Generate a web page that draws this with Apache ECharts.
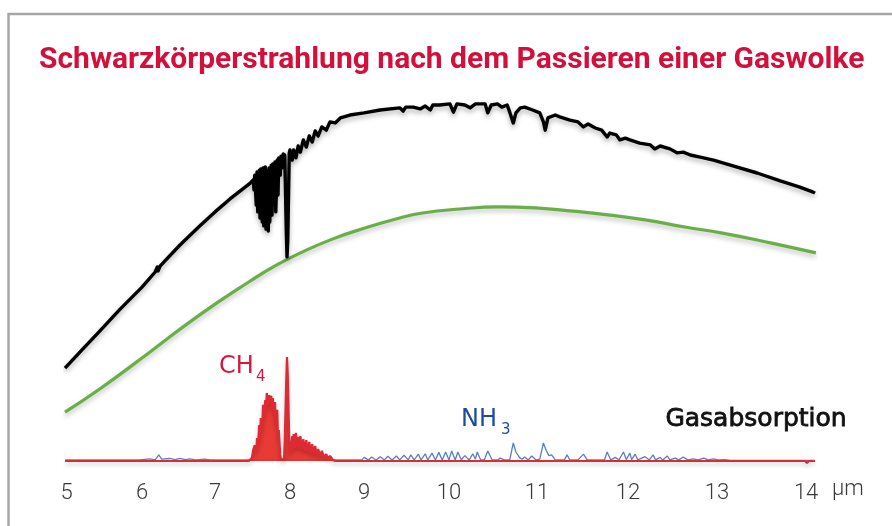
<!DOCTYPE html>
<html>
<head>
<meta charset="utf-8">
<script src="https://cdn.jsdelivr.net/npm/echarts@6/dist/echarts.min.js"></script>
<style>html,body{margin:0;padding:0;background:#fff;}#c{width:892px;height:526px;}</style>
</head>
<body>
<div id="c"></div>
<script>
// Wavelength ticks (µm) and where each sits along the (unevenly spaced) axis of the reference, as a fraction of 5→14 µm span
const xTickUm = [5, 6, 7, 8, 9, 10, 11, 12, 13, 14];
const xTickFrac = [0, 0.1021, 0.2008, 0.3022, 0.4023, 0.5172, 0.6362, 0.7593, 0.8796, 1.0];

// Black: spectrum after passing the gas cloud [µm, relative intensity]
const blackCurve = [
  [4.98,25.8],[5.18,30.3],[5.44,36.1],[5.71,42.2],[6.00,48.3],[6.18,52.5],[6.21,53.9],[6.22,52.8],[6.25,54.2],
  [6.52,60.0],[6.79,65.3],[7.00,69.2],[7.20,72.8],[7.47,77.2],[7.51,78.1],
  [7.52,75.3],[7.53,79.4],[7.55,71.1],[7.56,80.3],[7.57,69.2],[7.59,80.8],[7.60,67.5],[7.61,81.1],[7.63,66.4],
  [7.64,81.4],[7.65,65.3],[7.67,81.7],[7.68,64.4],[7.69,80.8],[7.71,63.9],[7.72,81.4],[7.73,66.4],[7.75,82.2],
  [7.76,68.3],[7.77,82.5],[7.79,71.1],[7.80,83.1],[7.81,69.2],[7.83,83.6],[7.84,73.9],[7.85,84.2],[7.87,79.4],
  [7.88,84.7],[7.89,81.4],[7.91,85.3],[7.92,83.6],[7.93,85.0],[7.95,64.2],[7.96,56.7],[7.97,61.4],[7.99,85.6],
  [8.00,86.4],[8.03,83.6],[8.05,86.4],[8.08,84.2],[8.11,87.5],[8.14,85.8],[8.18,89.2],[8.22,87.2],[8.26,90.3],
  [8.30,88.6],[8.34,91.7],[8.38,90.3],[8.43,92.8],[8.49,91.9],[8.54,94.2],[8.61,93.9],[8.68,95.3],[8.81,96.1],
  [9.00,96.7],[9.19,97.5],[9.42,98.1],[9.46,97.2],[9.49,98.3],[9.58,98.3],[9.66,97.8],[9.72,98.6],[9.78,97.5],
  [9.81,98.9],[9.89,98.9],[10.01,99.2],[10.05,96.9],[10.09,99.2],[10.18,98.9],[10.24,98.1],[10.30,99.2],
  [10.41,99.2],[10.44,96.7],[10.48,98.9],[10.55,99.2],[10.60,98.3],[10.66,98.9],[10.69,96.9],[10.73,93.9],
  [10.76,96.7],[10.81,98.1],[10.86,98.3],[10.95,97.5],[11.03,96.7],[11.07,94.2],[11.09,91.9],[11.12,95.3],
  [11.20,96.1],[11.25,95.6],[11.36,94.7],[11.45,94.2],[11.51,92.8],[11.56,93.6],[11.64,92.5],[11.71,91.9],
  [11.77,90.0],[11.80,91.1],[11.87,90.6],[11.91,89.2],[11.97,89.7],[12.02,89.2],[12.13,88.3],[12.25,87.8],
  [12.30,86.7],[12.36,87.5],[12.47,86.7],[12.55,85.6],[12.62,85.8],[12.70,85.0],[12.81,84.4],[12.96,83.6],
  [13.15,82.2],[13.45,80.0],[13.71,77.8],[13.93,76.1],[14.08,74.7],[14.10,74.4]
];

// Green: reference black-body curve [µm, relative intensity]
const greenCurve = [
  [4.98,13.6],[5.44,20.0],[6.11,30.3],[6.79,40.6],[7.47,50.0],[7.80,54.2],[8.14,57.8],[8.58,61.7],[9.01,64.7],
  [9.42,67.5],[9.69,68.9],[10.13,70.0],[10.56,70.6],[10.98,70.3],[11.39,69.4],
  [11.80,68.3],[12.21,66.9],[12.64,65.0],[13.06,63.3],[13.60,60.6],[14.11,57.8]
];

// Red: CH4 absorption [µm, absorption]
const ch4Absorption = [
  [4.98,0],[7.45,0],[7.49,0.8],[7.51,3.1],[7.53,4.4],[7.55,2.5],[7.56,6.4],[7.57,3.6],[7.59,10],[7.60,5.8],
  [7.61,11.9],[7.63,8.6],[7.64,15.6],[7.65,11.4],[7.67,16.9],[7.68,14.2],[7.69,18.9],[7.71,15.6],[7.72,18.3],
  [7.73,16.4],[7.75,18.1],[7.76,14.2],[7.77,17.5],[7.79,12.8],[7.80,16.4],[7.81,10],[7.83,14.2],[7.84,5.8],
  [7.85,8.6],[7.87,1.7],[7.88,0.6],[7.92,0.3],[7.93,5.8],[7.95,22.5],[7.96,28.9],[7.97,23.9],[7.99,5.8],
  [8.00,1.7],[8.01,3.6],[8.03,6.9],[8.04,3.1],[8.05,7.5],[8.07,3.6],[8.08,7.8],[8.09,3.9],[8.11,6.7],[8.12,3.3],
  [8.14,6.9],[8.16,3.1],[8.18,6.1],[8.20,2.8],[8.22,5.8],[8.24,2.5],[8.26,5.3],[8.28,2.2],[8.30,4.7],[8.32,1.9],
  [8.34,4.2],[8.36,1.7],[8.38,3.3],[8.41,1.4],[8.43,2.8],[8.46,1.1],[8.49,1.9],[8.51,0.8],[8.54,1.4],[8.58,0.3],
  [8.61,0],[13.99,0],[14.01,-0.6],[14.03,0],[14.10,0]
];

// Blue: NH3 absorption [µm, absorption]
const nh3Absorption = [
  [4.98,0.3],[5.97,0.3],[6.11,0.6],[6.18,0.3],[6.23,1.7],[6.27,0.5],[6.38,0.7],[6.45,0.4],[6.52,0.7],[6.59,0.4],
  [6.66,0.6],[6.73,0.3],[6.86,0.5],[6.93,0.3],[8.97,0.3],
  [9.00,1.0],[9.05,0.3],[9.09,1.1],[9.14,0.3],[9.19,1.2],[9.24,0.3],[9.28,1.3],[9.33,0.3],[9.38,1.4],[9.42,0.3],
  [9.47,1.6],[9.52,0.3],[9.55,1.7],[9.59,0.3],[9.64,1.9],[9.67,0.3],[9.72,2.0],[9.75,0.3],[9.80,2.2],[9.84,0.3],
  [9.88,2.4],[9.92,0.3],[9.96,2.5],[10.00,0.3],[10.03,2.8],[10.07,0.3],[10.10,2.5],[10.14,0.3],[10.18,1.5],
  [10.23,0.3],[10.27,2.0],[10.30,0.5],[10.32,2.5],[10.36,0.3],[10.40,0.3],[10.44,2.8],[10.49,0.3],[10.55,0.3],
  [10.58,0.8],[10.63,0.3],[10.69,0.3],[10.73,5.0],[10.76,2.5],[10.80,1.0],[10.83,0.5],[10.86,1.1],[10.90,0.3],
  [10.94,1.4],[10.99,0.3],[11.03,0.5],[11.07,5.0],[11.10,3.0],[11.13,1.5],[11.16,1.7],[11.20,0.3],[11.30,0.3],
  [11.33,1.7],[11.36,0.3],[11.45,0.3],[11.51,1.9],[11.55,0.3],[11.74,0.3],[11.77,2.5],[11.81,0.3],[11.86,1.0],
  [11.90,0.3],[11.95,2.5],[11.98,0.4],[12.02,2.2],[12.04,0.4],[12.08,1.9],[12.11,0.3],[12.19,1.2],[12.24,0.3],
  [12.28,1.7],[12.31,0.3],[12.36,1.0],[12.39,0.3],[12.44,1.4],[12.47,0.3],[12.53,0.8],[12.57,0.3],[12.62,1.1],
  [12.67,0.3],[12.73,0.6],[12.79,0.3],[12.85,0.8],[12.90,0.3],[12.96,0.6],[13.01,0.3],[13.09,0.4],[13.15,0.2],
  [14.10,0.2]
];

const titleText = 'Schwarzkörperstrahlung nach dem Passieren einer Gaswolke';
const unitText = 'μm';
const gasLabel = 'Gasabsorption';

// map a wavelength onto the reference's uneven axis
function warp(um) {
  const n = xTickUm.length;
  let i = 0;
  if (um <= xTickUm[0]) i = 0;
  else if (um >= xTickUm[n - 1]) i = n - 2;
  else { while (um > xTickUm[i + 1]) i++; }
  const t = (um - xTickUm[i]) / (xTickUm[i + 1] - xTickUm[i]);
  return xTickFrac[i] + t * (xTickFrac[i + 1] - xTickFrac[i]);
}
const toXY = arr => arr.map(([u, v]) => [warp(u), v]);

const chart = echarts.init(document.getElementById('c'), null, {renderer: 'canvas'});
chart.setOption({
  animation: false,
  backgroundColor: '#ffffff',
  title: {
    text: titleText, left: 34, top: 40,
    textStyle: {fontFamily: 'Roboto', fontWeight: 'bold', fontSize: 30, color: '#d3103b'}
  },
  grid: {left: 65, right: 77, top: 101, bottom: 57.8, containLabel: false},
  xAxis: {
    type: 'value', min: warp(4.98), max: warp(14.10),
    axisLine: {show: false}, axisTick: {show: false}, splitLine: {show: false},
    axisLabel: {
      customValues: xTickFrac, margin: 14,
      fontFamily: 'Roboto', fontWeight: 300, fontSize: 22, color: '#3a3a3a',
      formatter: v => { const i = xTickFrac.findIndex(f => Math.abs(f - v) < 1e-6); return i >= 0 ? String(xTickUm[i]) : ''; }
    }
  },
  yAxis: {type: 'value', min: -2, max: 100, show: false},
  series: [
    {
      type: 'line', data: toXY(greenCurve), smooth: 0.5, showSymbol: false, z: 2,
      lineStyle: {color: '#6aae47', width: 3.2, shadowColor: 'rgba(0,0,0,0.25)', shadowBlur: 5, shadowOffsetY: 3}
    },
    {
      type: 'line', data: toXY(blackCurve), showSymbol: false, z: 3,
      lineStyle: {color: '#000000', width: 3.4, join: 'round', shadowColor: 'rgba(0,0,0,0.3)', shadowBlur: 5, shadowOffsetY: 3}
    },
    {
      type: 'line', data: toXY(nh3Absorption), showSymbol: false, z: 4,
      lineStyle: {color: '#5580c8', width: 1.3}
    },
    {
      type: 'line', data: toXY(ch4Absorption), showSymbol: false, z: 5,
      lineStyle: {color: '#dd2a33', width: 2.2, shadowColor: 'rgba(0,0,0,0.2)', shadowBlur: 4, shadowOffsetY: 3},
      areaStyle: {color: '#e8302a', opacity: 0.95, origin: 0}
    }
  ],
  graphic: [
    {type: 'polyline', shape: {points: [[8.5, 526], [8.5, 14], [892, 14]]}, style: {stroke: '#a6a6a6', lineWidth: 2.5, fill: null}, silent: true},
    {type: 'text', left: 219, top: 355, style: {text: 'CH', font: '24px "DejaVu Sans"', fill: '#d6173c'}},
    {type: 'text', left: 256, top: 370, style: {text: '4', font: '15px "DejaVu Sans"', fill: '#d6173c'}},
    {type: 'text', left: 461, top: 408, style: {text: 'NH', font: '24px "DejaVu Sans"', fill: '#1a4d9e'}},
    {type: 'text', left: 501, top: 423, style: {text: '3', font: '15px "DejaVu Sans"', fill: '#1a4d9e'}},
    {type: 'text', left: 665, top: 407, style: {text: gasLabel, font: '25px "DejaVu Sans"', fill: '#111111', stroke: '#111111', lineWidth: 0.8}},
    {type: 'text', left: 832, top: 478, style: {text: unitText, font: '300 22px Roboto', fill: '#3a3a3a'}}
  ]
});
</script>
</body>
</html>
